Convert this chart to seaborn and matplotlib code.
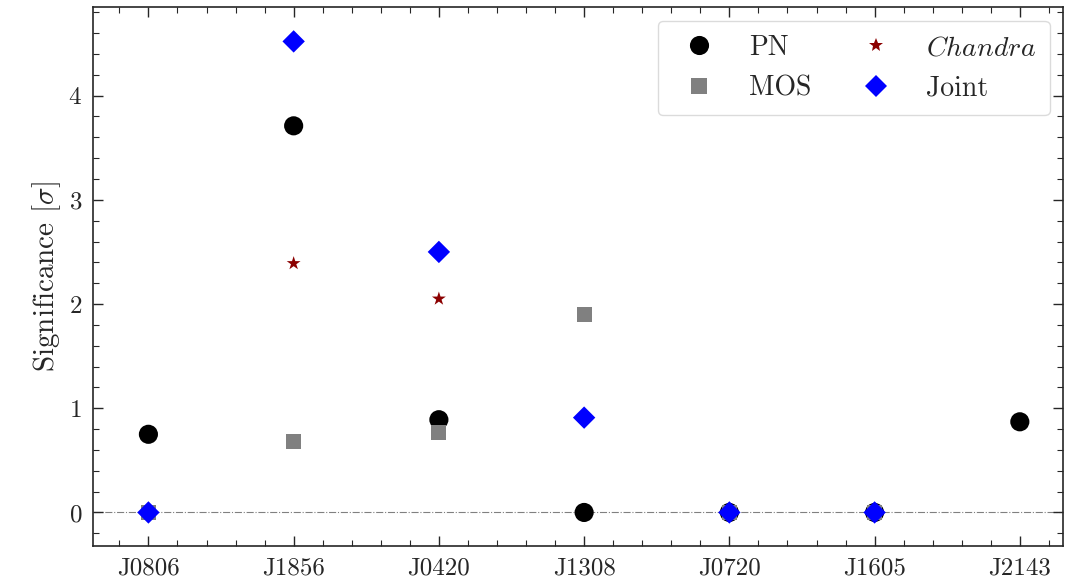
import numpy as np
import pandas as pd
import seaborn as sns
import matplotlib.pyplot as plt
from matplotlib.ticker import MultipleLocator

sources = ["J0806", "J1856", "J0420", "J1308", "J0720", "J1605", "J2143"]

pn_src = ["J0806", "J1856", "J0420", "J1308", "J0720", "J1605", "J2143"]
pn_sig = [0.75, 3.71, 0.89, 0.0, 0.0, 0.0, 0.87]

mos_src = ["J0806", "J1856", "J0420", "J1308", "J0720", "J1605"]
mos_sig = [0.0, 0.68, 0.77, 1.90, 0.0, 0.0]

chandra_src = ["J1856", "J0420"]
chandra_sig = [2.39, 2.05]

joint_src = ["J0806", "J1856", "J0420", "J1308", "J0720", "J1605"]
joint_sig = [0.0, 4.52, 2.50, 0.91, 0.0, 0.0]

labels = ["PN", "MOS", "$Chandra$", "Joint"]

rows = []
for lab, src, sig in zip(labels, [pn_src, mos_src, chandra_src, joint_src],
                         [pn_sig, mos_sig, chandra_sig, joint_sig]):
    for s, v in zip(src, sig):
        rows.append({"source": s, "pos": sources.index(s), "sig": v, "inst": lab})
df = pd.DataFrame(rows)

sns.set_style("ticks")
plt.rcParams.update({
    "font.family": "serif",
    "font.serif": ["cmr10"],
    "mathtext.fontset": "cm",
    "axes.formatter.use_mathtext": True,
    "axes.unicode_minus": False,
    "xtick.direction": "in",
    "ytick.direction": "in",
    "xtick.top": True,
    "ytick.right": True,
    "xtick.minor.visible": True,
    "ytick.minor.visible": True,
})

fig, ax = plt.subplots(figsize=(10.84, 5.85), dpi=100)

ax.axhline(0, color="gray", lw=0.8, ls="-.", zorder=0)

sns.scatterplot(data=df, x="pos", y="sig", hue="inst", style="inst", size="inst",
                palette={"PN": "black", "MOS": "gray", "$Chandra$": "darkred", "Joint": "blue"},
                markers={"PN": "o", "MOS": "s", "$Chandra$": "*", "Joint": "D"},
                sizes={"PN": 190, "MOS": 120, "$Chandra$": 110, "Joint": 130},
                hue_order=labels, style_order=labels, size_order=labels,
                linewidth=0, ax=ax)

handles, labs = ax.get_legend_handles_labels()
ax.legend(handles, labs, ncol=2, loc="upper right", fontsize=20, frameon=True,
          fancybox=True, framealpha=0.8, edgecolor="lightgray",
          columnspacing=1.3, handletextpad=0.8, borderpad=0.5, labelspacing=0.5,
          borderaxespad=0.5)

ax.set_xticks(range(len(sources)))
ax.set_xticklabels(sources)
ax.xaxis.set_minor_locator(MultipleLocator(0.2))
ax.yaxis.set_major_locator(MultipleLocator(1))
ax.yaxis.set_minor_locator(MultipleLocator(0.2))
ax.set_xlim(-0.38, 6.30)
ax.set_ylim(-0.32, 4.85)
ax.set_xlabel("")
ax.set_ylabel(r"Significance [$\sigma$]", fontsize=21)
ax.tick_params(which="major", length=7, width=1, labelsize=18, pad=8)
ax.tick_params(which="minor", length=4, width=0.8)
for sp in ax.spines.values():
    sp.set_linewidth(1.2)

plt.subplots_adjust(left=0.086, right=0.981, top=0.988, bottom=0.067)
plt.savefig("out.png", dpi=100)
